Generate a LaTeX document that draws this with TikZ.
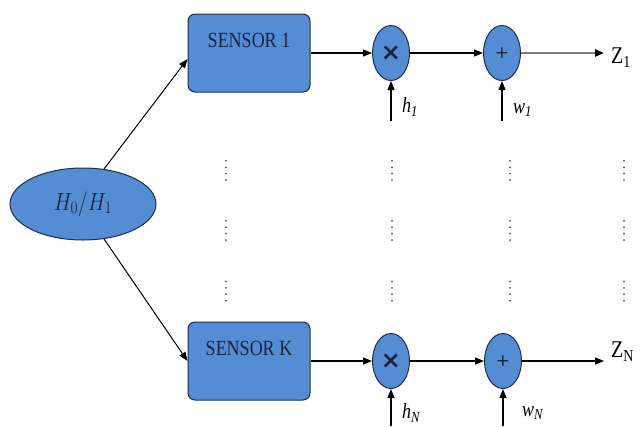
\documentclass[tikz,border=0pt]{standalone}
\usepackage{fontspec}
\setmainfont{Liberation Serif}
\newfontfamily\opfont{DejaVu Sans}
\usepackage{graphicx}
\usetikzlibrary{arrows.meta,shapes.geometric}

\definecolor{boxblue}{RGB}{84,141,212}
\definecolor{edgeblue}{RGB}{30,45,75}
\definecolor{inkblue}{RGB}{25,35,60}
\definecolor{dotgray}{RGB}{80,80,80}
\definecolor{linegray}{RGB}{125,125,125}

% slightly taller lettering
\newcommand{\tallText}[1]{\scalebox{1}[1.2]{#1}}

\begin{document}
\begin{tikzpicture}[x=1pt,y=-1pt,
  arr/.style={line width=1.1pt,-{Triangle[length=9pt,width=7pt]}},
  grayarr/.style={line width=2.2pt,draw=linegray,-{Triangle[length=9pt,width=7pt,color=black]}},
  sensorbox/.style={draw=edgeblue,fill=boxblue,line width=1pt,rounded corners=7pt,
    minimum width=122pt,minimum height=78pt,inner sep=0pt},
  opnode/.style={ellipse,draw=edgeblue,fill=boxblue,line width=1pt,
    minimum width=37pt,minimum height=55pt,inner sep=0pt,text=inkblue},
  timesop/.style={opnode,font=\opfont\bfseries\fontsize{24}{24}\selectfont},
  plusop/.style={opnode,font=\opfont\fontsize{17}{17}\selectfont},
  sensortext/.style={anchor=center,yshift=-27pt,inner sep=0pt,text=inkblue,
    font=\fontsize{18}{18}\selectfont},
  wlabel/.style={anchor=west,inner sep=0pt,font=\fontsize{18}{18}\selectfont},
  zlabel/.style={anchor=west,inner sep=0pt,font=\fontsize{20}{20}\selectfont}]

\useasboundingbox (0,0) rectangle (642,426);

% hypothesis source
\node[ellipse,draw=edgeblue,fill=boxblue,line width=1pt,minimum width=146pt,
  minimum height=72pt,inner sep=0pt,text=inkblue] (hyp) at (83,204)
  {\tallText{\fontsize{21}{21}\selectfont$H_0/H_1$}};

% sensors
\node[sensorbox,label={[sensortext]north:\tallText{SENSOR 1}}] (s1) at (249,53) {};
\node[sensorbox,label={[sensortext]north:\tallText{SENSOR K}}] (sK) at (249,361) {};

% multipliers and adders
\node[timesop] (m1) at (391,53) {×};
\node[plusop] (p1) at (502,53) {+};
\node[timesop] (mK) at (391,361) {×};
\node[plusop] (pK) at (503,361) {+};

% ends of the open connectors
\coordinate (z1) at (604,53);
\coordinate (zN) at (604,361);
\coordinate (h1s) at (391,121);
\coordinate (w1s) at (502,121);
\coordinate (hNs) at (391,426);
\coordinate (wNs) at (503,426);

% connectors
\draw[line width=1pt,-{Triangle[length=9pt,width=7pt]}] (hyp.59) -- ([yshift=-6pt]s1.west);
\draw[line width=1pt,-{Triangle[length=9pt,width=7pt]}] (hyp.-59) -- (sK.west);

\draw[arr] (s1.east |- m1.west) -- (m1.west);
\draw[arr] (m1.east) -- (p1.west);
\draw[grayarr] (p1.east) -- (z1);
\draw[arr] (h1s) -- (m1.south);
\draw[arr] (w1s) -- (p1.south);

\draw[arr] (sK.east |- mK.west) -- (mK.west);
\draw[arr] (mK.east) -- (pK.west);
\draw[arr] (pK.east) -- (zN);
\draw[arr] (hNs) -- (mK.south);
\draw[arr] (wNs) -- (pK.south);

% labels
\node[zlabel] (z1lab) at (611,58) {\tallText{Z\textsubscript{1}}};
\node[zlabel] (zNlab) at (611,352) {\tallText{Z\textsubscript{N}}};
\node[wlabel] (h1lab) at (402,107) {\tallText{\textit{h}\textsubscript{\textit{1}}}};
\node[wlabel] (w1lab) at (513,110) {\tallText{\textit{w}\textsubscript{\textit{1}}}};
\node[wlabel] (hNlab) at (402,413) {\tallText{\textit{h}\textsubscript{\textit{N}}}};
\node[wlabel] (wNlab) at (522,413) {\tallText{\textit{w}\textsubscript{\textit{N}}}};

% vertical ellipses between the rows
\foreach \x in {226,392,510,624}
  \foreach \y in {170.5,230.5,291}
    \foreach \k in {-1.5,-0.5,0.5,1.5}
      \fill[dotgray] (\x,\y+\k*6.4) circle (1pt);
\end{tikzpicture}
\end{document}
